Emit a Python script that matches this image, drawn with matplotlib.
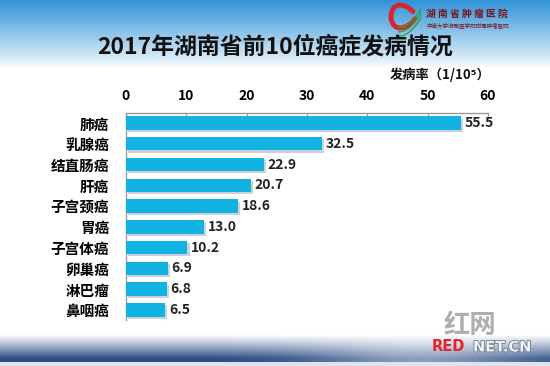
import matplotlib.pyplot as plt
import matplotlib.patheffects as pe
import numpy as np

plt.rcParams['font.family'] = ['Noto Sans CJK SC', 'DejaVu Sans']

# 2017 incidence of the top 10 cancers in Hunan (per 100,000)
cancers = ['肺癌', '乳腺癌', '结直肠癌', '肝癌', '子宫颈癌', '胃癌', '子宫体癌', '卵巢癌', '淋巴瘤', '鼻咽癌']
rates = [55.5, 32.5, 22.9, 20.7, 18.6, 13.0, 10.2, 6.9, 6.8, 6.5]
xticks = [0, 10, 20, 30, 40, 50, 60]

title = '2017年湖南省前10位癌症发病情况'
unit_label = '发病率（1/10⁵）'
bar_color = '#12B2E2'

fig = plt.figure(figsize=(5.5, 3.66), dpi=100)

# background: blue wash at the top, dark blue band near the bottom
bg = fig.add_axes([0, 0, 1, 1], zorder=0)
H, W = 366, 550
yy = np.arange(H)[:, None]
xx = np.arange(W)[None, :]
img = np.ones((H, W, 3))
top_blue = np.array([0.20, 0.58, 0.85])
t = np.clip(1 - yy / 68.0, 0, 1) ** 0.9
img = img * (1 - t[..., None]) + top_blue * t[..., None]
band_blue = np.array([0.17, 0.30, 0.52])
b = np.clip((yy - 334) / 24.0, 0, 1) ** 1.1
b = b * (1 - 0.45 * np.exp(-((xx - 420) / 110.0) ** 2))
b = np.where(yy > 361, 0.15, b)
img = img * (1 - b[..., None]) + band_blue * b[..., None]
img = np.broadcast_to(img, (H, W, 3))
bg.imshow(img, extent=[0, 1, 0, 1], aspect='auto')
bg.set_xlim(0, 1)
bg.set_ylim(0, 1)
bg.axis('off')

# hospital logo and name in the top right corner
th = np.linspace(0.2 * np.pi, 1.9 * np.pi, 60)
bg.plot(0.733 + 0.022 * np.cos(th), 0.955 + 0.03 * np.sin(th) * (1 - 0.3 * np.cos(th)),
        color='#D7262B', lw=3.5, solid_capstyle='round')
for k in range(3):
    s = np.linspace(0, 1, 20)
    bg.plot(0.725 + 0.04 * s, 0.925 - 0.012 * k + 0.05 * s ** 2, color='#2E9E48', lw=1.0)
fig.text(0.775, 0.962, '湖 南 省 肿 瘤 医 院', fontsize=7, fontweight='bold',
         color='#7A1418', ha='left', va='center', style='italic')
fig.text(0.775, 0.93, '中南大学湘雅医学院附属肿瘤医院', fontsize=4, color='#7A1418',
         ha='left', va='center')

# watermark at the bottom right
fig.text(0.855, 0.112, '红网', fontsize=19, color='#9A9A9A', ha='center', va='center',
         alpha=0.8, fontweight='bold')
fig.text(0.785, 0.052, 'RED', fontsize=10.5, fontweight='bold', color='#E8202A',
         ha='left', va='center', family='DejaVu Sans')
fig.text(0.86, 0.052, 'NET.CN', fontsize=10.5, fontweight='bold', color='#F4F4F4',
         ha='left', va='center', family='DejaVu Sans',
         path_effects=[pe.withStroke(linewidth=1.2, foreground='#6A7A90')])

fig.text(0.5, 0.87, title, fontsize=16.5, fontweight='bold', ha='center', va='center',
         color='#111111')

ax = fig.add_axes([0.229, 0.125, 0.658, 0.567], zorder=1)
ax.patch.set_alpha(0)
y = np.arange(len(cancers))
bars = ax.barh(y, rates, height=0.64, color=bar_color, zorder=3)
for bar in bars:
    bar.set_path_effects([pe.SimplePatchShadow(offset=(1.5, -1.5), shadow_rgbFace='#9AA8B0', alpha=0.5),
                          pe.Normal()])
for yi, v in zip(y, rates):
    ax.text(v + 0.6, yi, f'{v:.1f}', va='center', ha='left', fontsize=10,
            fontweight='bold', color='#222222')

ax.set_xlim(0, 60)
ax.set_ylim(len(cancers) - 0.5, -0.5)
ax.set_xticks(xticks)
ax.xaxis.tick_top()
ax.tick_params(axis='x', direction='in', length=4, width=0.8, color='#999999',
               labelsize=10, pad=7)
for lbl in ax.get_xticklabels():
    lbl.set_fontweight('bold')
ax.set_yticks(y)
ax.set_yticklabels(cancers, fontsize=10.5, fontweight='bold')
ax.tick_params(axis='y', length=0, pad=12)
for side in ['right', 'bottom']:
    ax.spines[side].set_visible(False)
for side in ['top', 'left']:
    ax.spines[side].set_color('#999999')
    ax.spines[side].set_linewidth(1.0)

fig.text(0.892, 0.795, unit_label, fontsize=9.5, fontweight='bold', ha='right',
         va='center', color='#111111')

fig.savefig('out.png', dpi=100)
